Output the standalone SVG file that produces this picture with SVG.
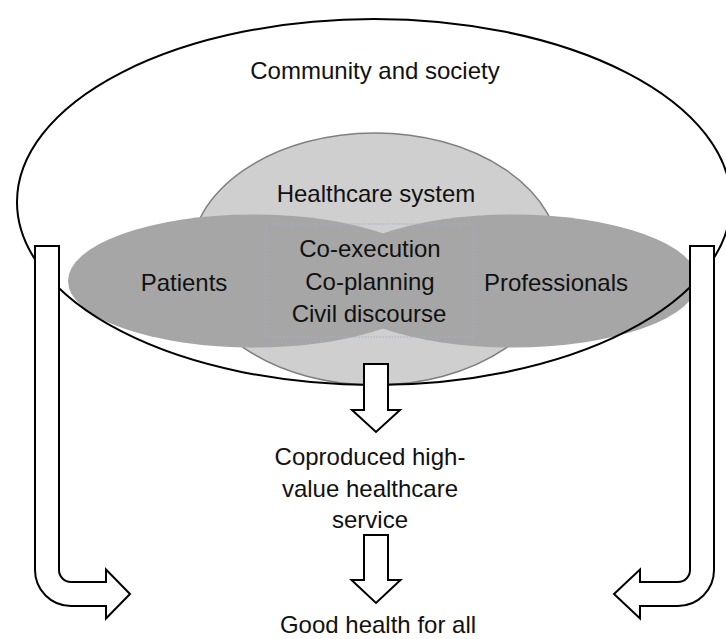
<svg xmlns="http://www.w3.org/2000/svg" width="726" height="639" viewBox="0 0 726 639">
  <style>
    text { font-family: "Liberation Sans", Arial, sans-serif; font-size: 24px; fill: #111; text-anchor: middle; }
    .hc { fill: #d0cfcf; stroke: #7f7f7f; stroke-width: 1.5; }
    .party { fill: #a6a6a6; stroke: none; }
    .outer { fill: none; stroke: #000; stroke-width: 2; }
    .box { fill: none; stroke: #9fb0c8; stroke-width: 1; stroke-dasharray: 1.5 1.5; }
    .arrow { fill: #fff; stroke: #000; stroke-width: 2; stroke-linejoin: miter; }
  </style>
  <rect width="726" height="639" fill="#fff"/>

  <g id="healthcare-system">
    <ellipse class="hc" cx="375" cy="259" rx="185" ry="126"/>
    <text x="376" y="202">Healthcare system</text>
  </g>

  <g id="patients">
    <ellipse class="party" cx="253.5" cy="281" rx="185.5" ry="66.5"/>
  </g>
  <g id="professionals">
    <ellipse class="party" cx="512.5" cy="281" rx="185.5" ry="66.5"/>
  </g>
  <g id="patients-label">
    <text x="184" y="291">Patients</text>
  </g>
  <g id="professionals-label">
    <text x="556" y="291">Professionals</text>
  </g>

  <g id="coproduction">
    <rect class="box" x="266" y="224" width="208" height="113"/>
    <text x="370" y="257">Co-execution</text>
    <text x="370" y="290">Co-planning</text>
    <text x="369" y="322">Civil discourse</text>
  </g>

  <g id="community-and-society">
    <ellipse class="outer" cx="374" cy="202" rx="357" ry="183"/>
    <text x="375" y="79">Community and society</text>
  </g>

  <g id="connectors">
    <path class="arrow" d="M364,364 H388 V410 H400 L376,432 L352,410 H364 Z"/>
    <path class="arrow" d="M364,535 H388 V580 H400.5 L376,603 L351.5,580 H364 Z"/>
    <path class="arrow" d="M35,246 H59 V570 A12,12 0 0 0 71,582 H106 V569.5 L130,594 L106,618.5 V606 H71 A36,36 0 0 1 35,570 Z"/>
    <path class="arrow" d="M690,246 H714 V570 A36,36 0 0 1 678,606 H640 V618.5 L614,594 L640,569.5 V582 H678 A12,12 0 0 0 690,570 Z"/>
  </g>

  <g id="coproduced-service">
    <text x="370" y="465">Coproduced high-</text>
    <text x="370" y="497">value healthcare</text>
    <text x="370" y="528">service</text>
  </g>

  <g id="good-health">
    <text x="378" y="633">Good health for all</text>
  </g>
</svg>
